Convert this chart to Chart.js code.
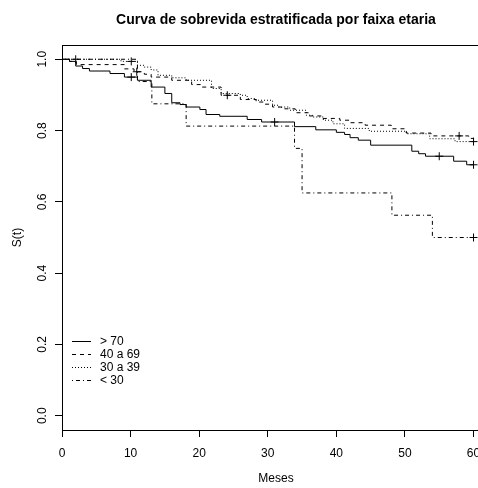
<!DOCTYPE html>
<html>
<head>
<meta charset="utf-8">
<script src="https://cdn.jsdelivr.net/npm/chart.js@4.4.1/dist/chart.umd.min.js"></script>
<style>
  html, body { margin: 0; padding: 0; background: #ffffff; overflow: hidden; }
  #wrap { width: 478px; height: 488px; overflow: hidden; position: relative; }
  canvas { display: block; }
</style>
</head>
<body>
<div id="wrap"><canvas id="km" width="500" height="488"></canvas></div>
<script>
// Kaplan-Meier estimates by age group (time in months, S(t) after each step)
const groupLabels = ['> 70', '40 a 69', '30 a 39', '< 30'];

const timesOver70 = [0, 1.1, 2, 3, 4, 7, 9.1, 11, 13, 15, 16, 17.2, 18.1, 20.1, 21, 23, 27, 29.1, 33.9, 37, 40, 41.2, 42, 43.2, 45, 51, 52, 53, 57.1, 59, 60];
const survOver70  = [1, 0.994, 0.981, 0.974, 0.967, 0.960, 0.950, 0.941, 0.922, 0.904, 0.878, 0.873, 0.866, 0.859, 0.845, 0.840, 0.831, 0.824, 0.811, 0.802, 0.795, 0.789, 0.780, 0.773, 0.759, 0.742, 0.735, 0.728, 0.714, 0.704, 0.704];
const censorOver70 = [10.1, 31, 55, 60];

const timesAge40 = [0, 1.1, 2.1, 9.1, 10.5, 12, 13, 16, 18.9, 20.2, 23.2, 26, 28.3, 29.5, 30.7, 32, 34, 36, 38, 40.5, 42, 44.2, 48, 50.2, 53.8, 59.3, 60];
const survAge40  = [1, 0.994, 0.985, 0.973, 0.965, 0.958, 0.950, 0.941, 0.929, 0.922, 0.899, 0.887, 0.880, 0.874, 0.866, 0.861, 0.850, 0.841, 0.834, 0.829, 0.822, 0.815, 0.805, 0.793, 0.785, 0.778, 0.778];
const censorAge40 = [10.9, 24.1, 57.9];

const timesAge30 = [0, 8.6, 11, 12, 13, 14, 16, 18.1, 21.8, 23.2, 26, 27, 28.3, 30.7, 31.5, 33.2, 35.6, 36.5, 38.1, 39.5, 41.2, 44.8, 50.2, 53.6, 57.3, 60];
const survAge30  = [1, 0.994, 0.983, 0.978, 0.970, 0.955, 0.948, 0.941, 0.918, 0.904, 0.899, 0.890, 0.885, 0.871, 0.866, 0.857, 0.843, 0.838, 0.829, 0.819, 0.806, 0.798, 0.791, 0.777, 0.769, 0.769];
const censorAge30 = [10.1, 60];

const timesUnder30 = [0, 11, 13.1, 18.1, 33.9, 35, 48.1, 54, 60];
const survUnder30  = [1, 0.9375, 0.875, 0.8125, 0.75, 0.625, 0.5625, 0.5, 0.5];
const censorUnder30 = [2, 60];

const xTicks = [0, 10, 20, 30, 40, 50, 60];
const yTicks = [0, 0.2, 0.4, 0.6, 0.8, 1.0];

const FONT = '"Liberation Sans", Arial, Helvetica, sans-serif';
const INK = '#000000';

// step function value at time t
function survivalAt(times, surv, t) {
  let s = surv[0];
  for (let i = 0; i < times.length; i++) { if (times[i] <= t) s = surv[i]; }
  return s;
}
function curve(times, surv) { return times.map((t, i) => ({ x: t, y: surv[i] })); }
function marks(times, surv, cens) { return cens.map(t => ({ x: t, y: survivalAt(times, surv, t) })); }

const groups = [
  { t: timesOver70,  s: survOver70,  c: censorOver70,  dash: [] },
  { t: timesAge40,   s: survAge40,   c: censorAge40,   dash: [4, 4] },
  { t: timesAge30,   s: survAge30,   c: censorAge30,   dash: [1, 2] },
  { t: timesUnder30, s: survUnder30, c: censorUnder30, dash: [1, 3, 4, 3] }
];

const datasets = [];
groups.forEach((g, i) => {
  datasets.push({
    label: groupLabels[i],
    data: curve(g.t, g.s),
    stepped: true,
    borderColor: INK,
    borderWidth: 1,
    borderDash: g.dash,
    pointRadius: 0,
    fill: false
  });
});
groups.forEach((g, i) => {
  datasets.push({
    label: groupLabels[i] + ' +',
    censor: true,
    data: marks(g.t, g.s, g.c),
    showLine: false,
    pointStyle: 'cross',
    pointRadius: 4,
    pointBorderWidth: 1,
    pointBorderColor: INK,
    borderColor: INK
  });
});

// plot frame and the corner key
const framePlugin = {
  id: 'frame',
  afterDraw(chart) {
    const { ctx, chartArea: ca } = chart;
    ctx.save();
    ctx.strokeStyle = INK;
    ctx.lineWidth = 1;
    ctx.setLineDash([]);
    const l = Math.round(ca.left) + 0.5, t = Math.round(ca.top) + 0.5;
    const r = Math.round(ca.right) + 0.5, b = Math.round(ca.bottom) + 0.5;
    ctx.strokeRect(l, t, r - l, b - t);

    ctx.font = '12px ' + FONT;
    ctx.textBaseline = 'middle';
    ctx.textAlign = 'left';
    ctx.fillStyle = INK;
    chart.data.datasets.filter(d => !d.censor).forEach((ds, i) => {
      const y = Math.round(ca.bottom - 89.5 + i * 13.2) + 0.5;
      ctx.setLineDash(ds.borderDash || []);
      ctx.beginPath();
      ctx.moveTo(ca.left + 10, y);
      ctx.lineTo(ca.left + 29, y);
      ctx.stroke();
      ctx.fillText(ds.label, ca.left + 38, y);
    });
    ctx.restore();
  }
};

new Chart(document.getElementById('km'), {
  type: 'line',
  data: { datasets },
  options: {
    responsive: false,
    devicePixelRatio: 1,
    animation: false,
    events: [],
    layout: { padding: { left: 0, right: 10, top: 0, bottom: 0 } },
    plugins: {
      legend: { display: false },
      tooltip: { enabled: false },
      title: {
        display: true,
        fullSize: false,
        text: 'Curva de sobrevida estratificada por faixa etaria',
        color: INK,
        font: { family: FONT, size: 14, weight: 'bold', lineHeight: 1.2 },
        padding: { top: 11.6, bottom: 16.6 }
      }
    },
    scales: {
      x: {
        type: 'linear',
        min: 0,
        max: 62.4,
        afterBuildTicks: s => { s.ticks = xTicks.map(v => ({ value: v })); },
        afterFit: s => { s.height = 58; },
        grid: { display: true, drawOnChartArea: false, drawTicks: true, tickLength: 7, color: INK, lineWidth: 1 },
        border: { display: false },
        ticks: { color: INK, font: { family: FONT, size: 12 }, padding: 9, maxRotation: 0, minRotation: 0,
                 callback: v => String(v) },
        title: { display: true, text: 'Meses', color: INK, font: { family: FONT, size: 12 }, padding: { top: 0, bottom: 2 } }
      },
      y: {
        min: -0.04,
        max: 1.04,
        afterBuildTicks: s => { s.ticks = yTicks.map(v => ({ value: v })); },
        afterFit: s => { s.width = 62; },
        grid: { display: true, drawOnChartArea: false, drawTicks: true, tickLength: 7, color: INK, lineWidth: 1 },
        border: { display: false },
        ticks: { color: INK, font: { family: FONT, size: 12 }, padding: 4, minRotation: 90, maxRotation: 90,
                 crossAlign: 'center', callback: v => v.toFixed(1) },
        title: { display: true, text: 'S(t)', color: INK, font: { family: FONT, size: 12 }, padding: { top: 10, bottom: 0 } }
      }
    }
  },
  plugins: [framePlugin]
});
</script>
</body>
</html>
